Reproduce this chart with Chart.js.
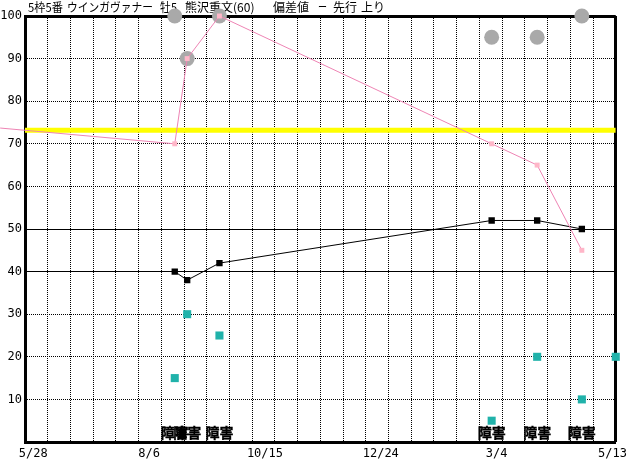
<!DOCTYPE html>
<html>
<head>
<meta charset="utf-8">
<script src="https://cdn.jsdelivr.net/npm/chart.js@4.4.0/dist/chart.umd.min.js"></script>
<style>
  body { margin: 0; background: #fff; }
  #wrap { width: 632px; height: 460px; }
</style>
</head>
<body>
<div id="wrap"><canvas id="chart"></canvas></div>
<script>
// chart data (x = days counted from 5/28)
const titleParts = ['5枠5番', 'ウインガヴァナー', '牡5', '熊沢重文(60)', '偏差値', 'ー', '先行', '上り'];
const titleX = [28, 67, 160, 185, 273, 318, 333, 361];
const titleW = [35, 86, 17, 73, 42, 9, 24, 27];
const tickDays = [0, 70, 140, 210, 280, 350];
const dateLabels = ['5/28', '8/6', '10/15', '12/24', '3/4', '5/13'];
const raceDays = [85.5, 93, 112.5, 277, 304.5, 331.5];
const raceMarks = ['障害', '障害', '障害', '障害', '障害', '障害'];
const prevDay = -20;
const prevDev = 73.7;
const devValues = [70, 90, 100, 70, 65, 45];
const topDots = [100, 90, 100, 95, 95, 100];
const paceValues = [40, 38, 42, 52, 52, 50];
const lastDays = [85.5, 93, 112.5, 277, 304.5, 331.5, 352];
const lastValues = [15, 30, 25, 5, 20, 10, 20];
const baseLevel = 73.2;

const pts = (xs, ys) => xs.map((x, i) => ({ x: x, y: ys[i] }));

// title + race type marks
const textPlugin = {
  id: 'texts',
  beforeDatasetsDraw(chart) {
    const c = chart.ctx;
    c.save();
    c.font = '12px "Noto Sans CJK JP"';
    c.fillStyle = '#000';
    c.textAlign = 'left';
    c.textBaseline = 'alphabetic';
    titleParts.forEach((t, i) => c.fillText(t, titleX[i], 12, titleW[i]));
    c.restore();
  },
  afterDatasetsDraw(chart) {
    const c = chart.ctx;
    const xs = chart.scales.x;
    c.save();
    c.font = 'bold 14px "Noto Sans CJK JP"';
    c.fillStyle = '#000';
    c.strokeStyle = '#000';
    c.lineWidth = 0.4;
    c.textAlign = 'center';
    c.textBaseline = 'alphabetic';
    raceDays.forEach((d, i) => {
      const px = xs.getPixelForValue(d);
      c.fillText(raceMarks[i], px, 438);
      c.strokeText(raceMarks[i], px, 438);
    });
    c.restore();
  }
};

new Chart(document.getElementById('chart'), {
  type: 'line',
  data: {
    datasets: [
      {
        data: [{ x: prevDay, y: prevDev }].concat(pts(raceDays, devValues)),
        xAxisID: 'x',
        borderColor: '#ee84b4',
        borderWidth: 1,
        pointStyle: 'rect',
        pointRadius: [0].concat(raceDays.map(() => 3.5)),
        pointBackgroundColor: '#ffb6c8',
        pointBorderWidth: 0,
        clip: false,
        order: 1
      },
      {
        data: pts(raceDays, paceValues),
        xAxisID: 'x',
        borderColor: '#000',
        borderWidth: 1,
        pointStyle: 'rect',
        pointRadius: 4.5,
        pointBackgroundColor: '#000',
        pointBorderWidth: 0,
        order: 2
      },
      {
        data: pts(lastDays, lastValues),
        xAxisID: 'x',
        showLine: false,
        pointStyle: 'rect',
        pointRadius: 5.7,
        pointBackgroundColor: '#20b2aa',
        pointBorderWidth: 0,
        clip: false,
        order: 3
      },
      {
        data: pts(raceDays, topDots),
        xAxisID: 'x',
        showLine: false,
        pointRadius: 7.5,
        pointBackgroundColor: '#a9a9a9',
        pointBorderWidth: 0,
        clip: false,
        order: 4
      },
      {
        data: [{ x: -5, y: baseLevel }, { x: 352, y: baseLevel }],
        xAxisID: 'x',
        borderColor: '#ffff00',
        borderWidth: 5,
        pointRadius: 0,
        order: 5
      }
    ]
  },
  options: {
    responsive: true,
    maintainAspectRatio: false,
    animation: false,
    events: [],
    layout: { padding: { top: 16, right: 15, left: 0, bottom: 0 } },
    plugins: {
      legend: { display: false },
      tooltip: { enabled: false }
    },
    scales: {
      x: {
        type: 'linear',
        position: 'bottom',
        min: -5,
        max: 352,
        afterBuildTicks: axis => { axis.ticks = tickDays.map(v => ({ value: v })); },
        ticks: {
          callback: (v, i) => dateLabels[i],
          font: { family: 'DejaVu Sans Mono', size: 12 },
          color: '#000',
          padding: 5,
          maxRotation: 0,
          autoSkip: false
        },
        grid: { drawOnChartArea: false, drawTicks: false },
        border: { color: '#000', width: 3 },
        afterFit: a => { a.height = 18; }
      },
      xg: {
        type: 'linear',
        position: 'top',
        min: 0,
        max: 26,
        ticks: { display: false, stepSize: 1 },
        grid: {
          drawTicks: false,
          color: '#000',
          lineWidth: c => c.tick.value === 26 ? 3 : (c.tick.value === 0 ? 0 : 1)
        },
        border: {
          display: false,
          dash: c => (c.tick && c.tick.value === 26) ? [] : [1, 1]
        },
        afterFit: a => { a.height = 0; }
      },
      y: {
        min: 0,
        max: 100,
        ticks: {
          stepSize: 10,
          callback: v => v === 0 ? '' : v,
          font: { family: 'DejaVu Sans Mono', size: 12 },
          color: '#000',
          padding: 3
        },
        grid: {
          drawTicks: false,
          color: '#000',
          lineWidth: c => c.tick.value === 100 ? 3 : (c.tick.value === 0 ? 0 : 1)
        },
        border: {
          color: '#000',
          width: 3,
          dash: c => (c.tick && [40, 50, 100].indexOf(c.tick.value) < 0) ? [1, 1] : []
        },
        afterFit: a => { a.width = 25; }
      }
    }
  },
  plugins: [textPlugin]
});
</script>
</body>
</html>
